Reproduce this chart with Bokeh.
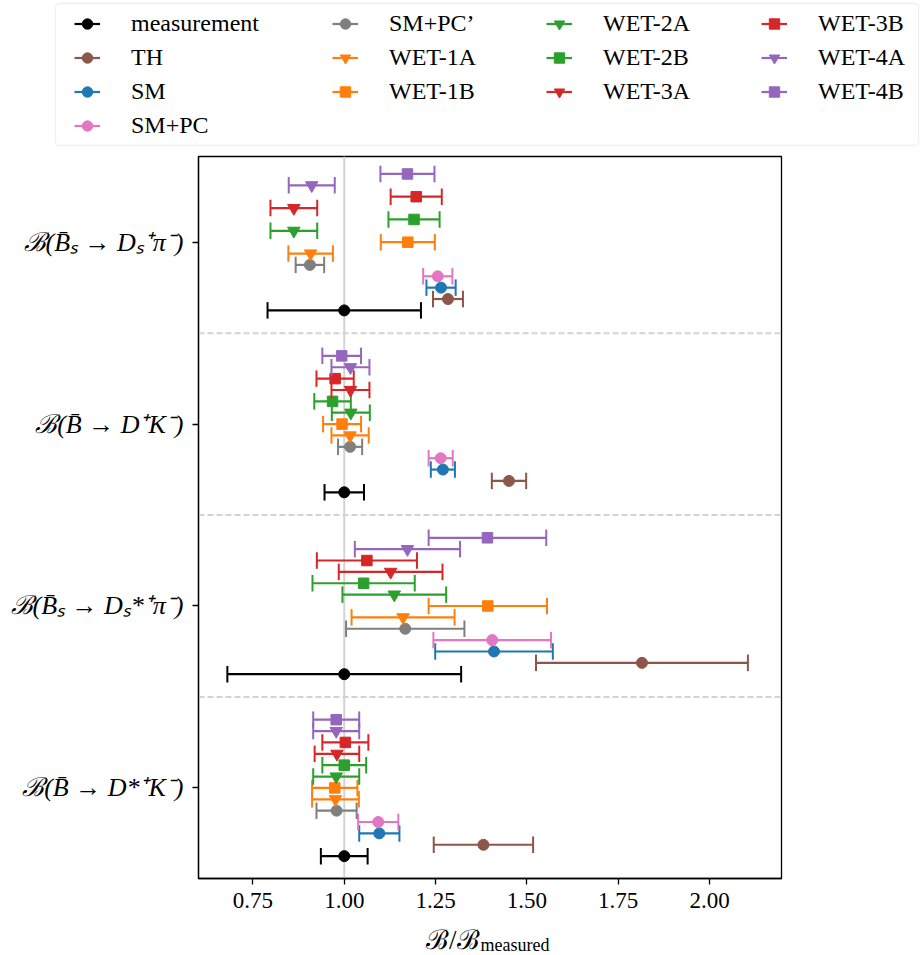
import math
from bokeh.plotting import figure
from bokeh.layouts import column
from bokeh.models import (ColumnDataSource, Range1d, FixedTicker, Span, Legend,
                          LegendItem, Label, NumeralTickFormatter, BoxAnnotation)
from bokeh.embed import file_html
from bokeh.resources import INLINE

# ---------------- data ----------------
decays = ["ℬ(B̄ₛ → Dₛ⁺π⁻)", "ℬ(B̄ → D⁺K⁻)", "ℬ(B̄ₛ → Dₛ*⁺π⁻)", "ℬ(B̄ → D*⁺K⁻)"]
decay_pos = [3, 2, 1, 0]
x_ticks = [0.75, 1.00, 1.25, 1.50, 1.75, 2.00]

series_names = ["measurement", "TH", "SM", "SM+PC", "SM+PC’",
                "WET-1A", "WET-1B", "WET-2A", "WET-2B",
                "WET-3A", "WET-3B", "WET-4A", "WET-4B"]
series_colors = ["black", "#8c564b", "#1f77b4", "#e377c2", "#7f7f7f",
                 "#ff7f0e", "#ff7f0e", "#2ca02c", "#2ca02c",
                 "#d62728", "#d62728", "#9467bd", "#9467bd"]
series_markers = ["circle", "circle", "circle", "circle", "circle",
                  "inverted_triangle", "square", "inverted_triangle", "square",
                  "inverted_triangle", "square", "inverted_triangle", "square"]

measurement = [1.000, 1.000, 1.000, 1.000]
measurement_err = [0.210, 0.054, 0.320, 0.064]
th = [1.284, 1.451, 1.815, 1.381]
th_err = [0.041, 0.047, 0.290, 0.136]
sm = [1.265, 1.270, 1.410, 1.096]
sm_err = [0.040, 0.033, 0.161, 0.055]
sm_pc = [1.256, 1.264, 1.405, 1.093]
sm_pc_err = [0.040, 0.033, 0.161, 0.055]
sm_pc2 = [0.906, 1.016, 1.167, 0.979]
sm_pc2_err = [0.039, 0.033, 0.162, 0.055]
wet1a = [0.908, 1.016, 1.161, 0.976]
wet1a_err = [0.061, 0.051, 0.141, 0.064]
wet1b = [1.174, 0.994, 1.393, 0.974]
wet1b_err = [0.074, 0.052, 0.162, 0.062]
wet2a = [0.862, 1.018, 1.137, 0.978]
wet2a_err = [0.064, 0.052, 0.142, 0.063]
wet2b = [1.191, 0.968, 1.053, 1.000]
wet2b_err = [0.070, 0.050, 0.140, 0.060]
wet3a = [0.862, 1.017, 1.127, 0.980]
wet3a_err = [0.064, 0.052, 0.142, 0.061]
wet3b = [1.197, 0.975, 1.062, 1.003]
wet3b_err = [0.070, 0.051, 0.137, 0.063]
wet4a = [0.911, 1.017, 1.173, 0.978]
wet4a_err = [0.063, 0.052, 0.144, 0.063]
wet4b = [1.173, 0.993, 1.392, 0.978]
wet4b_err = [0.074, 0.053, 0.161, 0.063]

series_values = [measurement, th, sm, sm_pc, sm_pc2, wet1a, wet1b,
                 wet2a, wet2b, wet3a, wet3b, wet4a, wet4b]
series_errors = [measurement_err, th_err, sm_err, sm_pc_err, sm_pc2_err,
                 wet1a_err, wet1b_err, wet2a_err, wet2b_err,
                 wet3a_err, wet3b_err, wet4a_err, wet4b_err]

# legend columns (series indices per column)
legend_columns = [[0, 1, 2, 3], [4, 5, 6], [7, 8, 9], [10, 11, 12]]

FONT = "Liberation Serif"
W = 920
LF_H = 150
TF_H = 43

# ---------------- legend strip (top) ----------------
lf = figure(width=W, height=LF_H, min_border=0, frame_align=False,
            x_range=Range1d(100, 101), y_range=Range1d(100, 101),
            output_backend="svg", toolbar_location=None,
            background_fill_color="white", border_fill_color="white")
lf.axis.visible = False
lf.grid.visible = False
lf.outline_line_color = None

# ---------------- main plot ----------------
p = figure(width=W, height=762,
           min_border_left=198, min_border_right=139,
           min_border_top=6, min_border_bottom=34,
           x_range=Range1d(0.601, 2.197), y_range=Range1d(-0.498, 3.471),
           output_backend="svg", toolbar_location=None,
           background_fill_color="white", border_fill_color="white")
p.grid.visible = False
p.outline_line_color = "black"
p.outline_line_width = 1.3
p.outline_line_alpha = 1.0

# reference lines
p.add_layout(Span(location=1.0, dimension="height", line_color="#d3d3d3",
                  line_width=2, level="underlay"))
for k in range(len(decay_pos) - 1):
    sep = (decay_pos[k] + decay_pos[k + 1]) / 2
    p.add_layout(Span(location=sep, dimension="width", line_color="#d3d3d3",
                      line_width=2, line_dash="6 3", level="underlay"))

n = len(series_names)
legend_items = []
marker_sizes = {"circle": 11, "square": 10.5, "inverted_triangle": 12.5}
for k in range(n):
    off = -0.375 + 0.0625 * k
    ys = [d + off for d in decay_pos]
    vals = series_values[k]
    errs = series_errors[k]
    lo = [v - e for v, e in zip(vals, errs)]
    hi = [v + e for v, e in zip(vals, errs)]
    src = ColumnDataSource(dict(y=ys, v=vals, lo=lo, hi=hi))
    cap_src = ColumnDataSource(dict(x=lo + hi, y=ys + ys))
    c = series_colors[k]
    m = series_markers[k]
    p.segment(x0="lo", y0="y", x1="hi", y1="y", source=src,
              line_color=c, line_width=2.2)
    p.scatter(x="x", y="y", source=cap_src, marker="dash", angle=math.pi / 2,
              size=16.5, line_color=c, line_width=2.0)
    p.scatter(x="v", y="y", source=src, marker=m, size=marker_sizes[m],
              fill_color=c, line_color=c, line_width=1)
    # the same series, drawn (out of view) in the legend strip for its key
    seg_l = lf.segment(x0="lo", y0="y", x1="hi", y1="y", source=src,
                       line_color=c, line_width=2.2)
    mk_l = lf.scatter(x="v", y="y", source=src, marker=m, size=marker_sizes[m],
                      fill_color=c, line_color=c, line_width=1)
    legend_items.append(LegendItem(label=series_names[k], renderers=[seg_l, mk_l]))

# legend frame
lf.add_layout(BoxAnnotation(left=55, right=918, top=LF_H - 3, bottom=LF_H - 145,
                            left_units="screen", right_units="screen",
                            top_units="screen", bottom_units="screen",
                            fill_color="white", fill_alpha=1.0,
                            line_color="#cccccc", line_width=1.3,
                            border_radius=4, level="annotation"))

col_glyph_x = [75, 333, 547, 762]
PAD, SPACING, GH = 6, 7, 27
for ci, idxs in enumerate(legend_columns):
    rows = len(idxs)
    height = 2 * PAD + rows * GH + (rows - 1) * SPACING
    lg = Legend(items=[legend_items[i] for i in idxs], orientation="vertical",
                location=(col_glyph_x[ci] - PAD + 5, LF_H + 2 - height),
                margin=0, padding=PAD, spacing=SPACING,
                glyph_width=26, glyph_height=GH, label_height=GH,
                label_standoff=31,
                label_text_font=FONT, label_text_font_size="24px",
                label_text_color="black",
                border_line_color=None, background_fill_alpha=0.0)
    lf.add_layout(lg)

# axes
p.xaxis.ticker = FixedTicker(ticks=x_ticks)
p.xaxis.formatter = NumeralTickFormatter(format="0.00")
p.yaxis.ticker = FixedTicker(ticks=decay_pos)
p.yaxis.major_label_overrides = {pos: lab for pos, lab in zip(decay_pos, decays)}
for ax in (p.xaxis, p.yaxis):
    ax.axis_line_color = "black"
    ax.axis_line_width = 1.3
    ax.major_tick_line_color = "black"
    ax.major_tick_line_width = 1.3
    ax.major_tick_out = 6
    ax.major_tick_in = 0
    ax.minor_tick_line_color = None
    ax.major_label_text_font = FONT
    ax.major_label_text_font_size = "23px"
    ax.major_label_text_color = "black"
p.xaxis.major_label_standoff = 8
p.yaxis.major_label_standoff = 9
p.yaxis.major_label_text_font_size = "26px"
p.yaxis.major_label_text_font_style = "italic"

# ---------------- x axis title strip (bottom) ----------------
tf = figure(width=W, height=TF_H, min_border=0, frame_align=False,
            x_range=Range1d(0, 1), y_range=Range1d(0, 1),
            output_backend="svg", toolbar_location=None,
            background_fill_color="white", border_fill_color="white")
tf.axis.visible = False
tf.grid.visible = False
tf.outline_line_color = None
tf.add_layout(Label(x=479, y=16, x_units="screen", y_units="screen",
                    text="ℬ/ℬ", text_align="right", text_baseline="alphabetic",
                    text_font=FONT, text_font_size="27px", text_color="black"))
tf.add_layout(Label(x=480, y=11, x_units="screen", y_units="screen",
                    text="measured", text_align="left", text_baseline="alphabetic",
                    text_font=FONT, text_font_size="18px", text_color="black"))

layout = column(lf, p, tf, spacing=0)
open("out.html", "w").write(file_html(layout, INLINE))
